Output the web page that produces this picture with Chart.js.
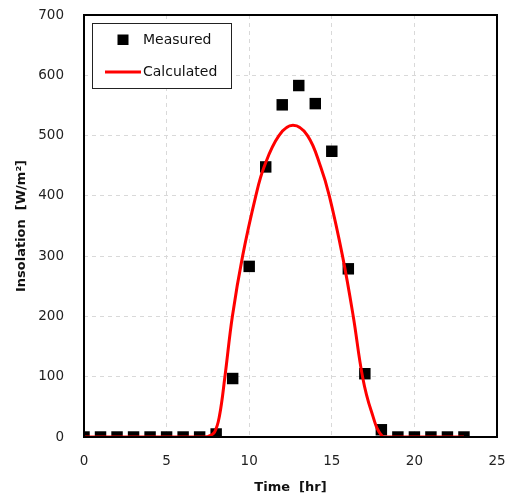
<!DOCTYPE html>
<html>
<head>
<meta charset="utf-8">
<script src="https://cdn.jsdelivr.net/npm/chart.js@4"></script>
<style>
  html, body { margin: 0; padding: 0; background: #fff; }
  #wrap { width: 511px; height: 501px; position: relative; }
</style>
</head>
<body>
<div id="wrap"><canvas id="c"></canvas></div>
<script>
// measured insolation, one value per hour
var hours = [0,1,2,3,4,5,6,7,8,9,10,11,12,13,14,15,16,17,18,19,20,21,22,23];
var measured = [0,0,0,0,0,0,0,0,5,97,283,448,551,583,553,474,279,105,12,0,0,0,0,0];

// calculated curve
var calcX = [0, 7, 7.5, 7.9, 8.2, 8.53, 8.98, 9.6, 10.4, 10.9, 11.8, 12.65, 13.53, 14.33, 14.85, 15.65, 16.3, 16.86, 17.38, 18.1, 19, 23];
var calcY = [0, 0, 1, 8, 35, 100, 200, 300, 400, 448, 500, 517, 500, 448, 400, 300, 200, 100, 44, 0, 0, 0];

var xTicks = [0, 5, 10, 15, 20, 25];
var yTicks = [0, 100, 200, 300, 400, 500, 600, 700];

var tickFont = { family: 'DejaVu Sans', size: 13.5 };
var titleFont = { family: 'DejaVu Sans', size: 13, weight: 'bold' };

var frame = {
  id: 'frame',
  afterDatasetsDraw: function(chart) {
    var a = chart.chartArea, ctx = chart.ctx;
    ctx.save();
    ctx.strokeStyle = '#000';
    ctx.lineWidth = 2;
    ctx.strokeRect(a.left, a.top, a.right - a.left, a.bottom - a.top);
    ctx.restore();
  },
  afterDraw: function(chart) {
    // boxed legend in the upper left corner
    var ctx = chart.ctx;
    var ds = chart.data.datasets;
    ctx.save();
    ctx.fillStyle = '#fff';
    ctx.fillRect(92, 23, 140, 66);
    ctx.strokeStyle = '#222';
    ctx.lineWidth = 1;
    ctx.strokeRect(92.5, 23.5, 139, 65);
    ctx.fillStyle = ds[1].backgroundColor;
    ctx.fillRect(117.5, 34.5, 11, 10.5);
    ctx.strokeStyle = ds[0].borderColor;
    ctx.lineWidth = 3;
    ctx.beginPath();
    ctx.moveTo(105, 72);
    ctx.lineTo(141, 72);
    ctx.stroke();
    ctx.fillStyle = '#111';
    ctx.font = '14px "DejaVu Sans"';
    ctx.textBaseline = 'middle';
    ctx.fillText(ds[1].label, 143, 40);
    ctx.fillText(ds[0].label, 143, 72);
    ctx.restore();
  }
};

new Chart(document.getElementById('c'), {
  type: 'scatter',
  data: {
    datasets: [{
      label: 'Calculated',
      type: 'line',
      data: calcX.map(function(x, i) { return { x: x, y: calcY[i] }; }),
      borderColor: '#ff0000',
      borderWidth: 3,
      pointRadius: 0,
      tension: 0.4,
      fill: false,
      order: 0
    }, {
      label: 'Measured',
      data: hours.map(function(h, i) { return { x: h, y: measured[i] }; }),
      backgroundColor: '#000',
      borderColor: '#000',
      borderWidth: 0,
      pointStyle: 'rect',
      pointRadius: 8.1,
      pointHoverRadius: 8.1,
      order: 1
    }]
  },
  options: {
    responsive: true,
    maintainAspectRatio: false,
    animation: false,
    events: [],
    layout: { padding: { left: 0, top: 15, right: 14, bottom: 0 } },
    plugins: { legend: { display: false }, tooltip: { enabled: false } },
    scales: {
      x: {
        type: 'linear',
        min: 0, max: 25,
        afterBuildTicks: function(s) { s.ticks = xTicks.map(function(v) { return { value: v }; }); },
        afterFit: function(s) { s.height = 64; },
        grid: { color: '#d9d9d9', lineWidth: 1, drawTicks: true, tickLength: 14, tickColor: 'rgba(0,0,0,0)' },
        border: { display: false, dash: [4, 4] },
        ticks: { font: tickFont, color: '#222', padding: 2, maxRotation: 0 },
        title: { display: true, text: 'Time  [hr]', font: titleFont, color: '#111', padding: { top: 0, bottom: 6 } }
      },
      y: {
        min: 0, max: 700,
        afterBuildTicks: function(s) { s.ticks = yTicks.map(function(v) { return { value: v }; }); },
        afterFit: function(s) { s.width = 84; },
        grid: { color: '#d9d9d9', lineWidth: 1, drawTicks: true, tickLength: 18, tickColor: 'rgba(0,0,0,0)' },
        border: { display: false, dash: [4, 4] },
        ticks: { font: tickFont, color: '#222', padding: 2 },
        title: { display: true, text: 'Insolation  [W/m²]', font: titleFont, color: '#111', padding: { top: 14, bottom: 0 } }
      }
    }
  },
  plugins: [frame]
});
</script>
</body>
</html>
